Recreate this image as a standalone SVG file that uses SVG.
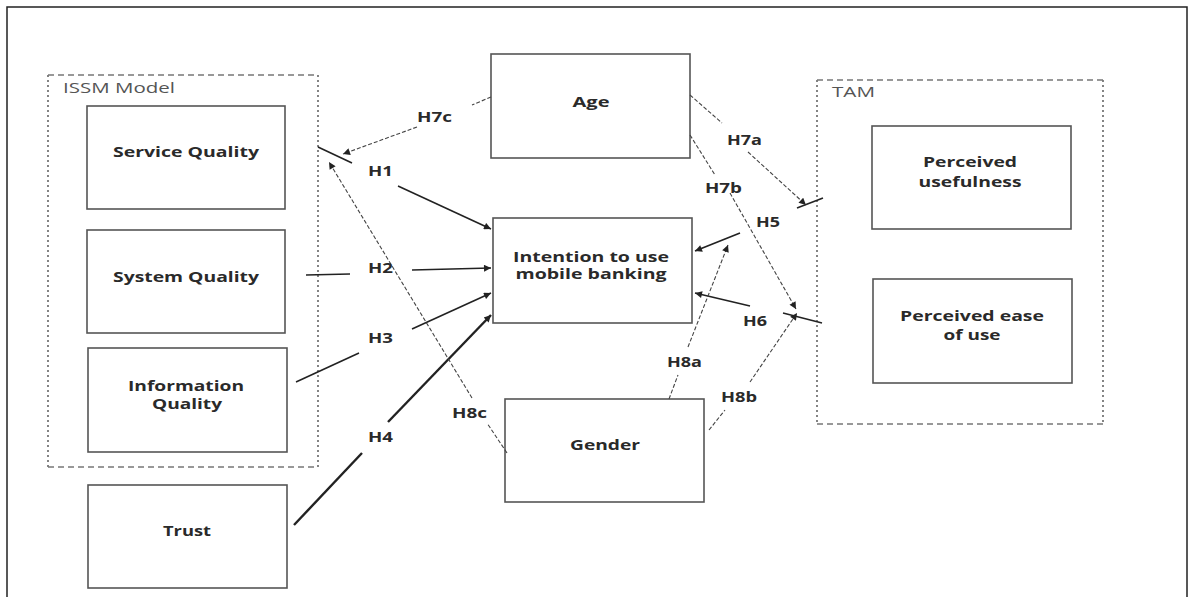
<svg xmlns="http://www.w3.org/2000/svg" width="1191" height="597" viewBox="0 0 1191 597">
<defs>
<marker id="ah" viewBox="0 0 10 10" refX="10" refY="5" markerWidth="9" markerHeight="7" markerUnits="userSpaceOnUse" orient="auto">
<path d="M0,0 L10,5 L0,10 z" fill="#222"/>
</marker>
<style>
.frame{fill:none;stroke:#222;stroke-width:1.5}
.box{fill:#fff;stroke:#555;stroke-width:1.6}
.dh{stroke:#777;stroke-width:1.6;stroke-dasharray:6 4;fill:none}
.dv{stroke:#777;stroke-width:1.8;stroke-dasharray:2 3;fill:none}
.t{font-family:"Open Sans","Liberation Sans",sans-serif;font-weight:bold;font-size:14px;fill:#2a2a2a;text-anchor:middle}
.g{font-family:"Open Sans","Liberation Sans",sans-serif;font-size:14px;fill:#555}
.lab{font-family:"Open Sans","Liberation Sans",sans-serif;font-weight:bold;font-size:14px;fill:#2a2a2a}
.s{stroke:#222;stroke-width:1.6;fill:none}
.s4{stroke:#222;stroke-width:2.4;fill:none}
.d{stroke:#444;stroke-width:1.1;stroke-dasharray:4 2;fill:none}
</style>
</defs>
<rect width="1191" height="597" fill="#fff"/>
<path class="frame" d="M7,597 V7 H1187 V597"/>

<g id="issm-group">
<line class="dh" x1="48" y1="75" x2="318" y2="75"/>
<line class="dh" x1="48" y1="467" x2="318" y2="467"/>
<line class="dv" x1="48" y1="75" x2="48" y2="467"/>
<line class="dv" x1="318" y1="75" x2="318" y2="467"/>
<text class="g" x="63" y="93" textLength="112" lengthAdjust="spacingAndGlyphs">ISSM Model</text>
</g>
<g id="tam-group">
<line class="dh" x1="817" y1="80" x2="1103" y2="80"/>
<line class="dh" x1="817" y1="424" x2="1103" y2="424"/>
<line class="dv" x1="817" y1="80" x2="817" y2="424"/>
<line class="dv" x1="1103" y1="80" x2="1103" y2="424"/>
<text class="g" x="832" y="97" textLength="43" lengthAdjust="spacingAndGlyphs">TAM</text>
</g>

<g id="service-quality">
<rect class="box" x="87" y="106" width="198" height="103"/>
<text class="t" x="186" y="157" textLength="146" lengthAdjust="spacingAndGlyphs">Service Quality</text>
</g>
<g id="system-quality">
<rect class="box" x="87" y="230" width="198" height="103"/>
<text class="t" x="186" y="282" textLength="146" lengthAdjust="spacingAndGlyphs">System Quality</text>
</g>
<g id="information-quality">
<rect class="box" x="88" y="348" width="199" height="104"/>
<text class="t" x="186" y="391" textLength="116" lengthAdjust="spacingAndGlyphs">Information</text>
<text class="t" x="187" y="409" textLength="70" lengthAdjust="spacingAndGlyphs">Quality</text>
</g>
<g id="trust">
<rect class="box" x="88" y="485" width="199" height="103"/>
<text class="t" x="187" y="536" textLength="48" lengthAdjust="spacingAndGlyphs">Trust</text>
</g>
<g id="age">
<rect class="box" x="491" y="54" width="199" height="104"/>
<text class="t" x="591" y="107" textLength="37" lengthAdjust="spacingAndGlyphs">Age</text>
</g>
<g id="intention">
<rect class="box" x="493" y="218" width="199" height="105"/>
<text class="t" x="591" y="262" textLength="156" lengthAdjust="spacingAndGlyphs">Intention to use</text>
<text class="t" x="591" y="279" textLength="151" lengthAdjust="spacingAndGlyphs">mobile banking</text>
</g>
<g id="gender">
<rect class="box" x="505" y="399" width="199" height="103"/>
<text class="t" x="605" y="450" textLength="70" lengthAdjust="spacingAndGlyphs">Gender</text>
</g>
<g id="perceived-usefulness">
<rect class="box" x="872" y="126" width="199" height="103"/>
<text class="t" x="970" y="167" textLength="94" lengthAdjust="spacingAndGlyphs">Perceived</text>
<text class="t" x="970" y="187" textLength="103" lengthAdjust="spacingAndGlyphs">usefulness</text>
</g>
<g id="perceived-ease">
<rect class="box" x="873" y="279" width="199" height="104"/>
<text class="t" x="972" y="321" textLength="144" lengthAdjust="spacingAndGlyphs">Perceived ease</text>
<text class="t" x="972" y="340" textLength="57" lengthAdjust="spacingAndGlyphs">of use</text>
</g>

<g id="connectors">
<line class="s" x1="318" y1="147" x2="352" y2="163"/>
<line class="s" x1="398" y1="186" x2="491" y2="229" marker-end="url(#ah)"/>
<line class="s" x1="306" y1="275" x2="350" y2="274"/>
<line class="s" x1="412" y1="270" x2="491" y2="268" marker-end="url(#ah)"/>
<line class="s" x1="296" y1="382" x2="359" y2="353"/>
<line class="s" x1="412" y1="329" x2="491" y2="293" marker-end="url(#ah)"/>
<line class="s4" x1="294" y1="525" x2="362" y2="453"/>
<line class="s4" x1="388" y1="422" x2="491" y2="315" marker-end="url(#ah)"/>
<line class="s" x1="823" y1="198" x2="797" y2="208"/>
<line class="s" x1="740" y1="233" x2="695" y2="251" marker-end="url(#ah)"/>
<line class="s" x1="822" y1="323" x2="783" y2="313"/>
<line class="s" x1="750" y1="306" x2="695" y2="293" marker-end="url(#ah)"/>
<line class="d" x1="690" y1="95" x2="722" y2="123"/>
<line class="d" x1="748" y1="152" x2="806" y2="205" marker-end="url(#ah)"/>
<line class="d" x1="690" y1="135" x2="715" y2="175"/>
<line class="d" x1="730" y1="193" x2="796" y2="309" marker-end="url(#ah)"/>
<line class="d" x1="491" y1="97" x2="472" y2="105"/>
<line class="d" x1="417" y1="127" x2="343" y2="154" marker-end="url(#ah)"/>
<line class="d" x1="669" y1="399" x2="678" y2="375"/>
<line class="d" x1="688" y1="347" x2="728" y2="245" marker-end="url(#ah)"/>
<line class="d" x1="709" y1="430" x2="725" y2="410"/>
<line class="d" x1="750" y1="382" x2="797" y2="313" marker-end="url(#ah)"/>
<line class="d" x1="507" y1="453" x2="487" y2="423"/>
<line class="d" x1="472" y1="398" x2="329" y2="162" marker-end="url(#ah)"/>
<text class="lab" x="368" y="176" textLength="25" lengthAdjust="spacingAndGlyphs">H1</text>
<text class="lab" x="368" y="273" textLength="25" lengthAdjust="spacingAndGlyphs">H2</text>
<text class="lab" x="368" y="343" textLength="25" lengthAdjust="spacingAndGlyphs">H3</text>
<text class="lab" x="368" y="442" textLength="25" lengthAdjust="spacingAndGlyphs">H4</text>
<text class="lab" x="756" y="227" textLength="24" lengthAdjust="spacingAndGlyphs">H5</text>
<text class="lab" x="743" y="326" textLength="24" lengthAdjust="spacingAndGlyphs">H6</text>
<text class="lab" x="727" y="145" textLength="35" lengthAdjust="spacingAndGlyphs">H7a</text>
<text class="lab" x="705" y="193" textLength="37" lengthAdjust="spacingAndGlyphs">H7b</text>
<text class="lab" x="417" y="122" textLength="35" lengthAdjust="spacingAndGlyphs">H7c</text>
<text class="lab" x="667" y="367" textLength="35" lengthAdjust="spacingAndGlyphs">H8a</text>
<text class="lab" x="721" y="402" textLength="36" lengthAdjust="spacingAndGlyphs">H8b</text>
<text class="lab" x="452" y="418" textLength="35" lengthAdjust="spacingAndGlyphs">H8c</text>
</g>
</svg>
